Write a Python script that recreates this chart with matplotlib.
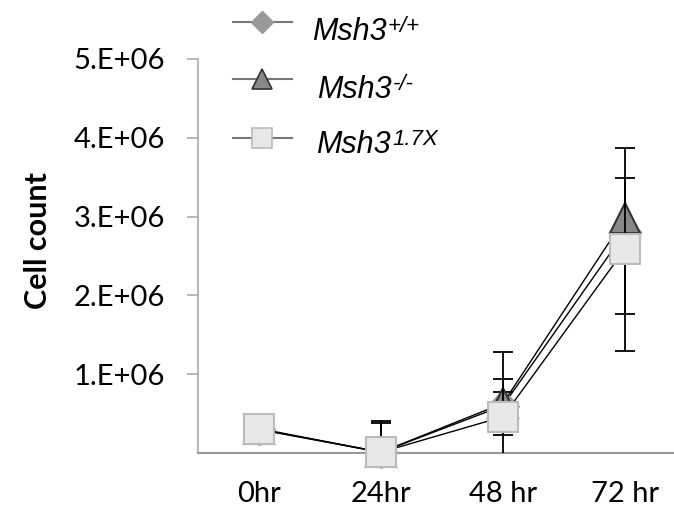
import matplotlib.pyplot as plt
from matplotlib.lines import Line2D

# data (cell counts, in units of 1e6)
times = ['0hr', '24hr', '48 hr', '72 hr']
wt = [0.30, 0.01, 0.60, 2.80]
wt_lo = [0.02, 0.05, 0.37, 1.03]
wt_hi = [0.02, 0.37, 0.34, 0.10]
ko = [0.30, 0.01, 0.63, 2.98]
ko_lo = [0.02, 0.05, 0.10, 0.30]
ko_hi = [0.02, 0.40, 0.15, 0.51]
oe = [0.31, 0.01, 0.46, 2.59]
oe_lo = [0.02, 0.05, 0.82, 1.29]
oe_hi = [0.02, 0.05, 0.82, 1.28]
yticks = [1, 2, 3, 4, 5]
ytick_labels = ['1.E+06', '2.E+06', '3.E+06', '4.E+06', '5.E+06']
names = ['Msh3', 'Msh3', 'Msh3']
sups = ['+/+', '-/-', '1.7X']

fig = plt.figure(figsize=(6.74, 5.12), dpi=100)
ax = fig.add_axes([198 / 674, 59 / 512, 488 / 674, 394 / 512])

x = list(range(len(times)))
styles = [
    dict(marker='D', ms=16, mfc='#999999', mec='#999999'),
    dict(marker='^', ms=22, mfc='#888888', mec='#333333', mew=1.5),
    dict(marker='s', ms=22, mfc='#e8e8e8', mec='#bbbbbb', mew=1.5),
]
series = [(wt, wt_lo, wt_hi), (ko, ko_lo, ko_hi), (oe, oe_lo, oe_hi)]
for i, ((vals, lo, hi), style) in enumerate(zip(series, styles)):
    ax.errorbar(x, vals, yerr=[lo, hi], fmt='none', ecolor='black',
                elinewidth=1.3, capsize=7, capthick=1.3, zorder=2 + i * 2)
    ax.plot(x, vals, color='black', lw=1, zorder=3 + i * 2, clip_on=False, **style)

ax.set_xlim(-0.5, 3.5)
ax.set_ylim(0, 5)
ax.set_xticks(x)
ax.set_xticklabels(times, fontsize=21, family='Lato')
ax.set_yticks(yticks)
ax.set_yticklabels(ytick_labels, fontsize=21, family='Lato')
ax.tick_params(axis='x', length=0, pad=20)
ax.tick_params(axis='y', direction='out', length=8, width=1.2, color='#aaaaaa', pad=16)
for s in ['top', 'right']:
    ax.spines[s].set_visible(False)
ax.spines['left'].set_color('#aaaaaa')
ax.spines['left'].set_linewidth(1.2)
ax.spines['bottom'].set_color('#999999')
ax.spines['bottom'].set_linewidth(1.5)

fig.text(38 / 674, 1 - 241 / 512, 'Cell count', rotation=90, ha='center', va='center',
         fontsize=22, fontweight='bold', family='Lato')

# legend drawn by hand so the superscripts look like the original
leg_styles = [
    dict(marker='D', ms=11, mfc='#999999', mec='#999999'),
    dict(marker='^', ms=15, mfc='#888888', mec='#333333', mew=1.2),
    dict(marker='s', ms=14, mfc='#e8e8e8', mec='#bbbbbb', mew=1.2),
]
leg_y = [22, 79, 138]
text_x = [312, 317, 316]
text_base = [40, 98, 153]
for st, yy, tx, tb, name, sup in zip(leg_styles, leg_y, text_x, text_base, names, sups):
    fig.add_artist(Line2D([233 / 674, 292 / 674], [1 - yy / 512] * 2, color='#777777',
                          lw=1.5, transform=fig.transFigure))
    fig.add_artist(Line2D([262 / 674], [1 - yy / 512], ls='none',
                          transform=fig.transFigure, **st))
    t = fig.text(tx / 674, 1 - tb / 512, name, fontsize=22, style='italic',
                 family='Liberation Sans', ha='left', va='baseline')
    ax.annotate(sup, xy=(1, 1), xycoords=t, xytext=(1, 1), textcoords='offset points',
                fontsize=16, style='italic', family='Liberation Sans', ha='left', va='top')

fig.savefig('out.png', dpi=100)
